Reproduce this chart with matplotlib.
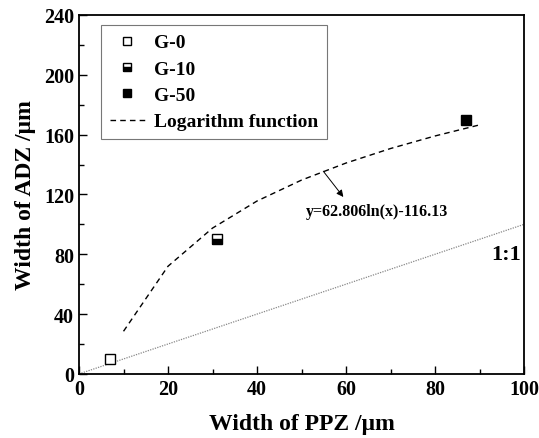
import matplotlib
matplotlib.use("Agg")
import matplotlib.pyplot as plt
from matplotlib.ticker import MultipleLocator

plt.rcParams['font.family'] = ['Liberation Serif', 'DejaVu Serif']
plt.rcParams['font.weight'] = 'bold'

# measured points
g0_x, g0_y = [7], [10]
g10_x, g10_y = [31], [90]
g50_x, g50_y = [87], [170]

# logarithm fit
fit_x = [10, 20, 30, 40, 50, 60, 70, 80, 90]
fit_y = [28.5, 72.0, 97.5, 115.6, 129.6, 141.0, 150.7, 159.1, 166.5]

# 1:1 reference
ref_x = [0, 100]
ref_y = [0, 100]

fig = plt.figure(figsize=(5.39, 4.39), dpi=100)
ax = fig.add_axes([0.1466, 0.146, 0.8256, 0.8176])

ax.plot(ref_x, ref_y, color='#888888', ls=(0, (1, 1)), lw=0.9)
ax.plot(fit_x, fit_y, color='black', ls=(0, (4, 3)), lw=1.0,
        label='Logarithm function')
ax.plot(g0_x, g0_y, 's', ms=7, mfc='white', mec='black', mew=1.0,
        ls='none', label='G-0')
ax.plot(g10_x, g10_y, 's', ms=7, fillstyle='bottom', mfc='black',
        mfcalt='white', mec='black', mew=1.0, ls='none', label='G-10')
ax.plot(g50_x, g50_y, 's', ms=7, color='black', ls='none', label='G-50')

ax.annotate('', xy=(59.4, 118.3), xytext=(54.9, 135.5),
            arrowprops=dict(arrowstyle='-|>', color='black', lw=0.7,
                            mutation_scale=10, shrinkA=0, shrinkB=0))
ax.text(67, 109, 'y=62.806ln(x)-116.13', fontsize=11.5, fontweight='bold',
        ha='center', va='center')
ax.text(96, 80, '1:1', fontsize=16, fontweight='bold', ha='center', va='center')

ax.set_xlim(0, 100)
ax.set_ylim(0, 240)
ax.xaxis.set_major_locator(MultipleLocator(20))
ax.xaxis.set_minor_locator(MultipleLocator(10))
ax.yaxis.set_major_locator(MultipleLocator(40))
ax.yaxis.set_minor_locator(MultipleLocator(20))
ax.tick_params(which='both', direction='in', top=False, right=False,
               labelsize=14.5, width=1.0)
ax.tick_params(which='major', length=6)
ax.tick_params(which='minor', length=3.5)
for s in ax.spines.values():
    s.set_linewidth(1.3)

ax.set_xlabel('Width of PPZ /μm', fontsize=17, fontweight='bold', labelpad=10)
ax.set_ylabel('Width of ADZ /μm', fontsize=17, fontweight='bold', labelpad=6)

h, l = ax.get_legend_handles_labels()
order = [1, 2, 3, 0]
leg = ax.legend([h[i] for i in order], [l[i] for i in order],
                loc='upper left', bbox_to_anchor=(0.049, 0.972),
                fontsize=14, frameon=True, fancybox=False, edgecolor='#555555',
                handlelength=1.8, borderpad=0.45, labelspacing=0.45,
                handletextpad=0.5, borderaxespad=0, markerscale=0.85)
leg.get_frame().set_linewidth(0.8)

fig.savefig('out.png', dpi=100)
